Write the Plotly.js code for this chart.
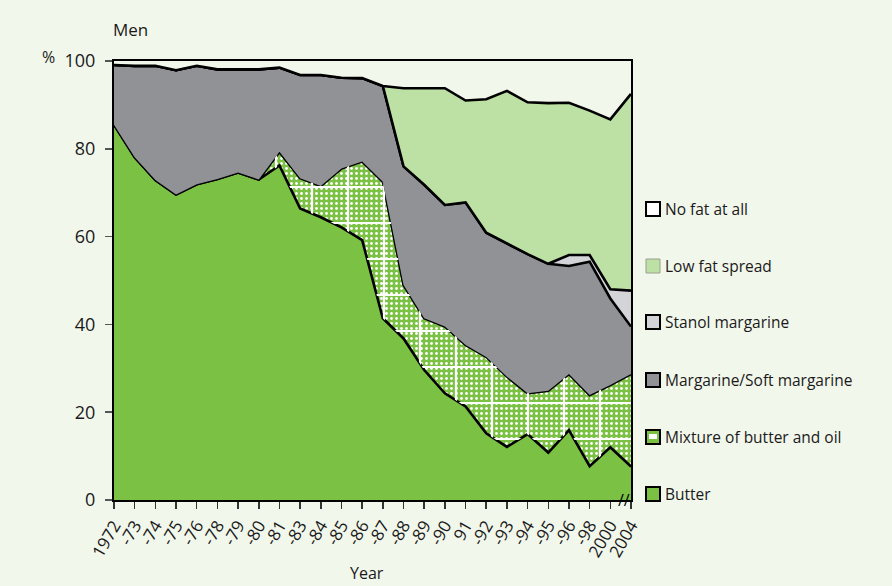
<!DOCTYPE html>
<html>
<head>
<meta charset="utf-8">
<script src="https://cdn.plot.ly/plotly-3.0.1.min.js"></script>
<style>
  html, body { margin: 0; padding: 0; background: #f2f7ec; }
  #chart { width: 892px; height: 586px; }
</style>
</head>
<body>
<div id="chart"></div>
<script>
// ---- data (percent of men) ----
const years = ['1972','-73','-74','-75','-76','-78','-79','-80','-81','-83','-84','-85','-86','-87','-88','-89','-90','91','-92','-93','-94','-95','-96','-98','2000','2004'];
const butter    = [85.5, 78.1, 72.9, 69.6, 71.9, 73.1, 74.6, 73.0, 76.2, 66.4, 64.4, 62.1, 59.2, 41.4, 36.8, 29.6, 24.3, 21.3, 15.2, 12.1, 15.0, 10.8, 15.9, 7.7, 12.0, 7.6];
const mixture   = [0, 0, 0, 0, 0, 0, 0, 0, 3.1, 6.9, 7.1, 13.4, 17.9, 31.1, 12.2, 11.8, 15.2, 14.0, 17.4, 16.0, 9.3, 14.1, 12.8, 16.2, 14.2, 21.1];
const margarine = [13.6, 20.8, 26.0, 28.3, 27.0, 25.0, 23.5, 25.1, 19.2, 23.5, 25.3, 20.7, 19.0, 21.8, 27.0, 30.4, 27.7, 32.5, 28.3, 30.4, 31.7, 28.9, 24.6, 30.4, 19.7, 10.8];
const stanol    = [0, 0, 0, 0, 0, 0, 0, 0, 0, 0, 0, 0, 0, 0, 0, 0, 0, 0, 0, 0, 0, 0, 2.5, 1.5, 2.1, 8.2];
const lowFat    = [0, 0, 0, 0, 0, 0, 0, 0, 0, 0, 0, 0, 0, 0, 17.8, 22.0, 26.6, 23.2, 30.4, 34.7, 34.6, 36.6, 34.7, 32.9, 38.7, 44.8];
const noFat     = [0.9, 1.1, 1.1, 2.1, 1.1, 1.9, 1.9, 1.9, 1.5, 3.2, 3.2, 3.8, 3.9, 5.7, 6.2, 6.2, 6.2, 9.0, 8.7, 6.8, 9.4, 9.6, 9.5, 11.3, 13.3, 7.5];
const seriesNames = ['No fat at all', 'Low fat spread', 'Stanol margarine', 'Margarine/Soft margarine', 'Mixture of butter and oil', 'Butter'];

// ---- styles ----
const BG = '#f2f7ec';
const GREEN = '#7bc144';
const LIGHTGREEN = '#bde0a4';
const GREY = '#919296';
const LIGHTGREY = '#d3d4d8';
const LINE = {color: '#000', width: 2.6};
const FONT = '"Open Sans", "DejaVu Sans", sans-serif';

function cum(prev, arr) { return arr.map((v, i) => +(prev[i] + v).toFixed(2)); }
const c0 = butter.slice();
const c1 = cum(c0, mixture);
const c2 = cum(c1, margarine);
const c3 = cum(c2, stanol);
const c4 = cum(c3, lowFat);
const c5 = cum(c4, noFat);

const traces = [
  {x: years, y: c0, name: 'Butter', mode: 'lines', line: LINE, fill: 'tozeroy', fillcolor: GREEN, hoverinfo: 'skip'},
  {x: years, y: c1, name: 'Mixture of butter and oil', mode: 'lines', line: LINE, fill: 'tonexty',
   fillcolor: GREEN, fillpattern: {shape: '.', size: 5, solidity: 0.24, fgcolor: '#ffffff', bgcolor: GREEN}, hoverinfo: 'skip'},
  // tile grid over the mixture band
  {x: years, y: c0, mode: 'lines', line: {width: 0, color: 'rgba(0,0,0,0)'}, hoverinfo: 'skip'},
  {x: years, y: c1, mode: 'lines', line: {width: 0, color: 'rgba(0,0,0,0)'}, fill: 'tonexty', fillcolor: 'rgba(255,255,255,0.01)',
   fillpattern: {shape: '+', size: 36, solidity: 0.12, fgcolor: '#ffffff', fgopacity: 1}, hoverinfo: 'skip'},
  {x: years, y: c2, name: 'Margarine/Soft margarine', mode: 'lines', line: LINE, fill: 'tonexty', fillcolor: GREY, hoverinfo: 'skip'},
  {x: years, y: c3, name: 'Stanol margarine', mode: 'lines', line: LINE, fill: 'tonexty', fillcolor: LIGHTGREY, hoverinfo: 'skip'},
  {x: years, y: c4, name: 'Low fat spread', mode: 'lines', line: LINE, fill: 'tonexty', fillcolor: LIGHTGREEN, hoverinfo: 'skip'},
  {x: years, y: c5, name: 'No fat at all', mode: 'none', fill: 'tonexty', fillcolor: BG, hoverinfo: 'skip'}
];

// ---- layout helpers (plot area: x 114..631 px, y 61..500 px) ----
const PL = 114, PR = 631, PT = 61, PB = 500;
const px = v => (v - PL) / (PR - PL);
const py = v => (PB - v) / (PB - PT);

const legendY = [209, 266, 322, 380, 437, 494];
const legendFill = ['#ffffff', LIGHTGREEN, LIGHTGREY, GREY, GREEN, GREEN];
const legendBorder = ['#000', '#9aa08f', '#000', '#000', '#000', '#000'];

const shapes = [];
const annotations = [];
seriesNames.forEach((nm, k) => {
  const yc = legendY[k];
  shapes.push({type: 'rect', xref: 'paper', yref: 'paper', x0: px(646), x1: px(660), y0: py(yc + 7), y1: py(yc - 7),
    fillcolor: legendFill[k], line: {color: legendBorder[k], width: k === 1 ? 1 : 2}});
  if (k === 4) {
    shapes.push({type: 'rect', xref: 'paper', yref: 'paper', x0: px(649), x1: px(657), y0: py(yc + 2), y1: py(yc - 3),
      fillcolor: '#ffffff', line: {width: 0}});
  }
  annotations.push({xref: 'paper', yref: 'paper', x: px(663), y: py(yc), xanchor: 'left', yanchor: 'middle',
    text: nm, showarrow: false, font: {family: FONT, size: 15.5, color: '#1a1a1a'}});
});
annotations.push({xref: 'paper', yref: 'paper', x: px(111), y: py(30), xanchor: 'left', yanchor: 'middle',
  text: 'Men', showarrow: false, font: {family: FONT, size: 17, color: '#1a1a1a'}});
annotations.push({xref: 'paper', yref: 'paper', x: px(48), y: py(57), xanchor: 'center', yanchor: 'middle',
  text: '%', showarrow: false, font: {family: FONT, size: 16, color: '#1a1a1a'}});
annotations.push({xref: 'paper', yref: 'paper', x: 0.49, y: py(573), xanchor: 'center', yanchor: 'middle',
  text: 'Year', showarrow: false, font: {family: FONT, size: 16, color: '#1a1a1a'}});
annotations.push({xref: 'x', yref: 'y', x: 24.65, y: 0, xanchor: 'center', yanchor: 'middle',
  text: '//', showarrow: false, font: {family: FONT, size: 16, color: '#000'}});

const layout = {
  width: 892, height: 586,
  paper_bgcolor: BG, plot_bgcolor: BG,
  margin: {l: PL, r: 892 - PR, t: PT, b: 586 - PB, pad: 0},
  showlegend: false,
  font: {family: FONT, color: '#1a1a1a'},
  xaxis: {
    type: 'category', range: [0, years.length - 1], autorange: false,
    showgrid: false, zeroline: false,
    showline: true, linecolor: '#000', linewidth: 2, mirror: true,
    ticks: 'outside', ticklen: 7, tickwidth: 1.5, tickcolor: '#333',
    tickangle: -60, tickfont: {family: FONT, size: 17, color: '#1a1a1a'},
    fixedrange: true
  },
  yaxis: {
    range: [0, 100], autorange: false, tickvals: [0, 20, 40, 60, 80, 100],
    showgrid: false, zeroline: false,
    showline: true, linecolor: '#000', linewidth: 2, mirror: true,
    ticks: 'outside', ticklen: 7, tickwidth: 1.5, tickcolor: '#555',
    ticklabelstandoff: 6,
    tickfont: {family: FONT, size: 18, color: '#1a1a1a'},
    fixedrange: true
  },
  shapes: shapes,
  annotations: annotations
};

Plotly.newPlot('chart', traces, layout, {displayModeBar: false, staticPlot: true});
</script>
</body>
</html>
